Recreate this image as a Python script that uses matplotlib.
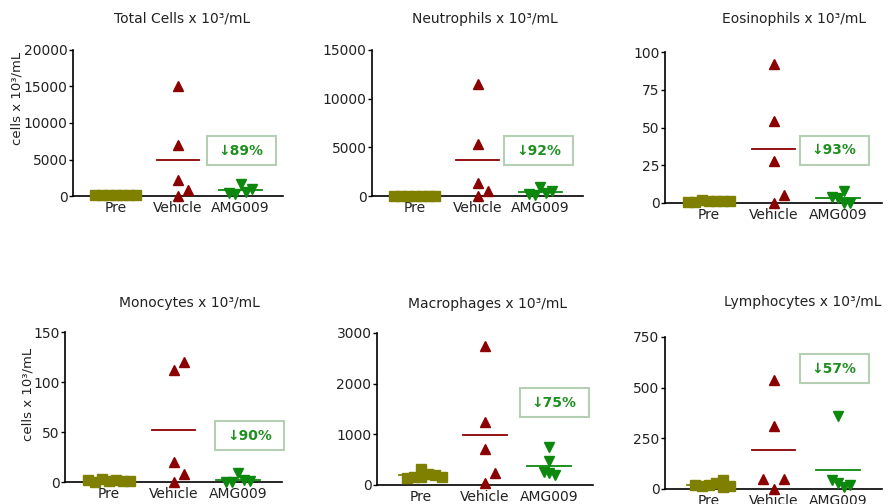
import numpy as np
import matplotlib
matplotlib.use("Agg")
import matplotlib.pyplot as plt
from matplotlib.patches import Rectangle

# ---- data ----
groups = ["Pre", "Vehicle", "AMG009"]
titles = [
    "Total Cells x 10³/mL",
    "Neutrophils x 10³/mL",
    "Eosinophils x 10³/mL",
    "Monocytes x 10³/mL",
    "Macrophages x 10³/mL",
    "Lymphocytes x 10³/mL",
]
reductions = ["↓89%", "↓92%", "↓93%", "↓90%", "↓75%", "↓57%"]
y_max = [20000, 15000, 100, 150, 3000, 750]
y_ticks = [
    [0, 5000, 10000, 15000, 20000],
    [0, 5000, 10000, 15000],
    [0, 25, 50, 75, 100],
    [0, 50, 100, 150],
    [0, 1000, 2000, 3000],
    [0, 250, 500, 750],
]

pre_vals = [
    [150, 180, 120, 200, 150, 130, 170],
    [0, 0, 0, 0, 0, 0, 0],
    [1, 1.5, 2, 1, 0.5, 1, 0.5],
    [1, 2, 3, 1, 0.5, 1, 2],
    [150, 220, 150, 320, 200, 140, 160],
    [20, 30, 15, 45, 10, 20, 15],
]
vehicle_vals = [
    [15000, 7000, 2200, 0, 800],
    [11500, 5300, 1300, 0, 500],
    [92, 54, 28, 0, 5],
    [112, 20, 0, 8, 120],
    [2750, 1250, 720, 30, 230],
    [540, 310, 0, 50, 50],
]
amg_vals = [
    [1600, 600, 300, 900, 400],
    [900, 350, 100, 550, 250],
    [3, 8, 0, 4, 0],
    [9, 2, 0, 1, 0],
    [750, 470, 240, 200, 250],
    [360, 30, 10, 45, 20],
]

# ---- layout (pixels in a 894x504 figure) ----
W, H = 894, 504
# left, right, top, bottom of each axes
boxes_px = [
    (73, 283, 50, 196), (372, 583, 50, 196), (665, 882, 52, 203),
    (65, 282, 332, 482), (377, 593, 333, 485), (665, 882, 337, 489),
]
title_px = [(182, 19), (485, 19), (794, 19), (189, 303), (488, 304), (803, 302)]
label_box = [(0.80, 0.31), (0.79, 0.31), (0.78, 0.35), (0.85, 0.31), (0.82, 0.54), (0.78, 0.79)]
ylabel_px = {0: (17, 98), 3: (28, 394)}

colors = ["#808000", "#8b0000", "#0c880c"]
markers = ["s", "^", "v"]
steps = [0.11, 0.16, 0.09]
text_col = "#222222"


def swarm(vals, ymax, h_px, step, thr=10.5):
    placed = []
    out = []
    for v in vals:
        y = v / ymax * h_px
        for k in [0, 1, -1, 2, -2, 3, -3, 4, -4]:
            if all(not (abs(y - py) < thr and pk == k) for py, pk in placed):
                break
        placed.append((y, k))
        out.append(k * step)
    return np.array(out)


plt.rcParams["font.family"] = ["DejaVu Sans"]
fig = plt.figure(figsize=(W / 100, H / 100), dpi=100)

for i in range(6):
    l, r, t, b = boxes_px[i]
    ax = fig.add_axes([l / W, 1 - b / H, (r - l) / W, (b - t) / H])
    h_px = b - t
    for j, vals in enumerate([pre_vals[i], vehicle_vals[i], amg_vals[i]]):
        vals = np.array(vals, dtype=float)
        thr = 7 if j == 0 else 10.5
        dx = swarm(vals, y_max[i], h_px, steps[j], thr)
        ax.plot(j + 1 + dx, vals, linestyle="none", marker=markers[j],
                color=colors[j], markersize=7 if j else 6.5, clip_on=False, zorder=3)
        m = vals.mean()
        ax.plot([j + 1 - 0.34, j + 1 + 0.34], [m, m], color=colors[j], lw=1.3, zorder=2)

    ax.set_xlim(0.32, 3.68)
    ax.set_ylim(0, y_max[i])
    ax.set_yticks(y_ticks[i])
    ax.set_xticks([1, 2, 3])
    ax.set_xticklabels(groups)
    for s in ["top", "right"]:
        ax.spines[s].set_visible(False)
    for s in ["left", "bottom"]:
        ax.spines[s].set_linewidth(1.2)
    ax.tick_params(axis="x", length=0, pad=3.5, labelsize=10, labelcolor=text_col)
    ax.tick_params(axis="y", length=3, width=1, pad=1, labelsize=10, labelcolor=text_col)

    tx, ty = title_px[i]
    fig.text(tx / W, 1 - ty / H, titles[i], ha="center", va="center",
             fontsize=10, color=text_col)

    bx, by = label_box[i]
    bw, bh = 69 / (r - l), 29 / h_px
    ax.add_patch(Rectangle((bx - bw / 2, by - bh / 2), bw, bh, transform=ax.transAxes,
                           facecolor="white", edgecolor="#b4cfb4", lw=1.5, clip_on=False))
    ax.text(bx, by, reductions[i], transform=ax.transAxes, ha="center", va="center",
            fontsize=10, fontweight="bold", color="#1f8f1f")

    if i in ylabel_px:
        lx, ly = ylabel_px[i]
        fig.text(lx / W, 1 - ly / H, "cells x 10³/mL", rotation=90, ha="center",
                 va="center", fontsize=9.5, color=text_col)

fig.savefig("out.png", dpi=100)
